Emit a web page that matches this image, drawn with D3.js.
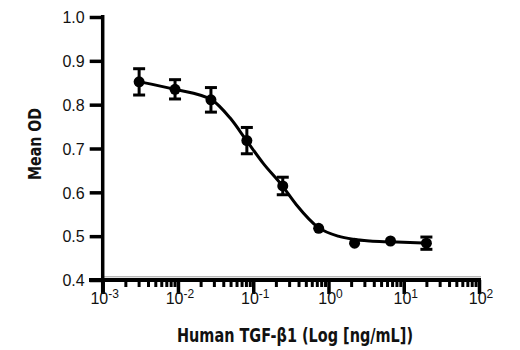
<!DOCTYPE html>
<html><head><meta charset="utf-8">
<script src="https://cdn.jsdelivr.net/npm/d3@7"></script>
<style>
body{margin:0;background:#fff;}
text{font-family:"Liberation Sans Narrow","DejaVu Sans Condensed","Arial Narrow",sans-serif;font-stretch:condensed;fill:#111;}
text.tk{font-family:"Liberation Sans",Arial,sans-serif;font-stretch:normal;}
</style></head>
<body><svg id="c" width="520" height="350"></svg>
<script>
// Data (concentration in ng/mL, mean OD, SD)
const conc = [0.003048, 0.009145, 0.02743, 0.08230, 0.2469, 0.7407, 2.222, 6.667, 20];
const meanOD = [0.852, 0.835, 0.811, 0.718, 0.6145, 0.518, 0.484, 0.489, 0.484];
const errOD = [0.030, 0.022, 0.028, 0.030, 0.020, 0.000, 0.000, 0.000, 0.014];
// Fitted curve: log10(conc), OD
const curveLogX = [-2.505, -2.040, -1.552, -1.309, -1.088, -0.867, -0.623, -0.424, -0.137, 0.129, 0.324, 0.550, 0.815, 1.347];
const curveY = [0.852, 0.835, 0.811, 0.770, 0.718, 0.666, 0.617, 0.571, 0.520, 0.500, 0.493, 0.489, 0.487, 0.484];
const yTicks = [0.4, 0.5, 0.6, 0.7, 0.8, 0.9, 1.0];
const xExps = [-3, -2, -1, 0, 1, 2];
const xTitle = "Human TGF-β1 (Log [ng/mL])";
const yTitle = "Mean OD";

const svg = d3.select("#c");
const x = d3.scaleLog().domain([1e-3, 1e2]).range([102.7, 479]);
const y = d3.scaleLinear().domain([0.4, 1.0]).range([280, 17]);

// faint line just above x axis
svg.append("line").attr("x1", 102).attr("x2", 481).attr("y1", 276.8).attr("y2", 276.8)
  .attr("stroke", "#999").attr("stroke-width", 1);

// Y axis
const yAxis = d3.axisLeft(y).tickValues(yTicks).tickFormat(d3.format(".1f")).tickSize(13).tickPadding(5);
const gy = svg.append("g").attr("transform", "translate(102.7,0)").call(yAxis);
gy.select(".domain").remove();
gy.selectAll(".tick line").attr("stroke", "#000").attr("stroke-width", 3.5);
gy.selectAll(".tick text").attr("class", "tk").style("font-size", "16px").attr("dy", "0.36em");
svg.append("line").attr("x1", 102.7).attr("x2", 102.7).attr("y1", 15).attr("y2", 294)
  .attr("stroke", "#000").attr("stroke-width", 3.5);

// X axis
svg.append("line").attr("x1", 89).attr("x2", 481).attr("y1", 280).attr("y2", 280)
  .attr("stroke", "#000").attr("stroke-width", 4);
const minor = [];
xExps.slice(0, -1).forEach(e => { for (let m = 2; m <= 9; m++) minor.push(m * Math.pow(10, e)); });
const xMinor = d3.axisBottom(x).tickValues(minor).tickSize(7).tickFormat("");
const gxm = svg.append("g").attr("transform", "translate(0,280)").call(xMinor);
gxm.select(".domain").remove();
gxm.selectAll(".tick line").attr("stroke", "#000").attr("stroke-width", 3);
const xMajor = d3.axisBottom(x).tickValues(xExps.map(e => Math.pow(10, e))).tickSize(14).tickFormat("");
const gx = svg.append("g").attr("transform", "translate(0,280)").call(xMajor);
gx.select(".domain").remove();
gx.selectAll(".tick line").attr("stroke", "#000").attr("stroke-width", 3.5);
xExps.forEach(e => {
  const t = svg.append("text").attr("class", "tk").attr("x", x(Math.pow(10, e)) + 2).attr("y", 304)
    .attr("text-anchor", "middle").style("font-size", "16px");
  t.append("tspan").text("10");
  t.append("tspan").attr("dy", -6).style("font-size", "12px").text(String(e));
});

// Titles
svg.append("text").attr("x", 295).attr("y", 342).attr("text-anchor", "middle")
  .attr("textLength", 236).attr("lengthAdjust", "spacingAndGlyphs")
  .style("font-size", "19px").style("font-weight", "bold").text(xTitle);
svg.append("text").attr("transform", "translate(41,144) rotate(-90)").attr("text-anchor", "middle")
  .attr("textLength", 72).attr("lengthAdjust", "spacingAndGlyphs")
  .style("font-size", "18px").style("font-weight", "bold").text(yTitle);

// Curve
const line = d3.line().x(d => x(Math.pow(10, d[0]))).y(d => y(d[1])).curve(d3.curveMonotoneX);
svg.append("path").datum(curveLogX.map((v, i) => [v, curveY[i]]))
  .attr("d", line).attr("fill", "none").attr("stroke", "#000").attr("stroke-width", 3);

// Error bars
const pts = conc.map((c, i) => ({c, m: meanOD[i], e: errOD[i]}));
const eb = svg.append("g").selectAll("g").data(pts.filter(d => d.e > 0)).join("g");
eb.append("line").attr("x1", d => x(d.c)).attr("x2", d => x(d.c))
  .attr("y1", d => y(d.m + d.e)).attr("y2", d => y(d.m - d.e)).attr("stroke", "#000").attr("stroke-width", 3);
[1, -1].forEach(s => {
  eb.append("line").attr("x1", d => x(d.c) - 6).attr("x2", d => x(d.c) + 6)
    .attr("y1", d => y(d.m + s * d.e)).attr("y2", d => y(d.m + s * d.e)).attr("stroke", "#000").attr("stroke-width", 3);
});
// Points
svg.append("g").selectAll("circle").data(pts).join("circle")
  .attr("cx", d => x(d.c)).attr("cy", d => y(d.m)).attr("r", 5.5).attr("fill", "#000");
</script></body></html>
